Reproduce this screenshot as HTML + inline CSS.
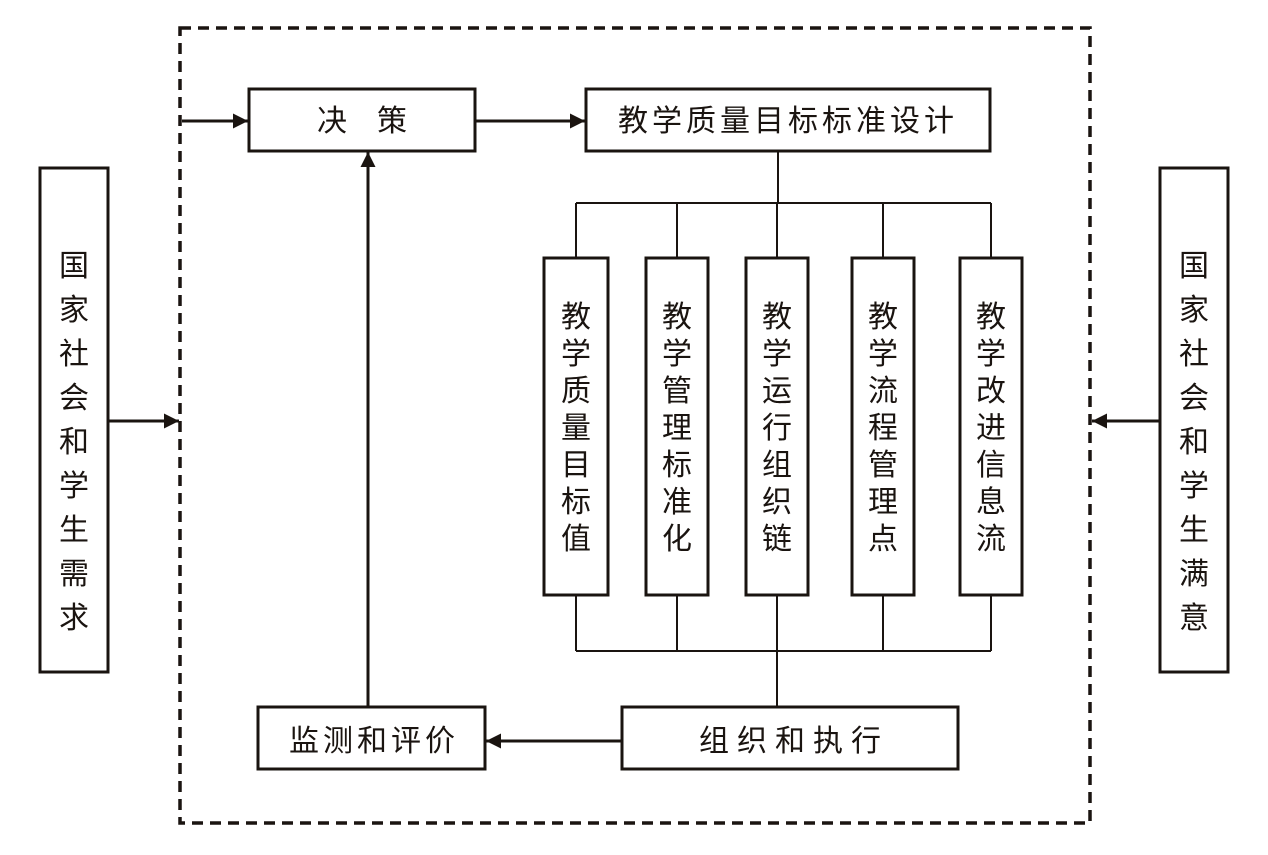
<!DOCTYPE html>
<html><head><meta charset="utf-8"><style>
html,body{margin:0;padding:0;background:#fff;}
svg{display:block;}
text{font-family:"Liberation Sans","Noto Sans CJK SC",sans-serif;fill:#1a1410;}
</style></head><body>
<svg width="1268" height="855" viewBox="0 0 1268 855" xmlns="http://www.w3.org/2000/svg">
<defs>
<marker id="a" viewBox="0 0 10 10" refX="10" refY="5" markerWidth="5" markerHeight="5" orient="auto" markerUnits="strokeWidth"><path d="M0,0 L10,5 L0,10 z" fill="#1a1410"/></marker>
</defs>
<g stroke="#1a1410" fill="none">
<rect x="180" y="28" width="910" height="795" stroke-width="3.5" stroke-dasharray="11,7"/>
<g stroke-width="3" fill="#fff">
<rect x="249" y="89" width="226" height="62"/>
<rect x="586" y="89" width="404" height="62"/>
<rect x="544" y="258" width="64" height="337"/>
<rect x="646" y="258" width="62" height="337"/>
<rect x="746" y="258" width="62" height="337"/>
<rect x="852" y="258" width="62" height="337"/>
<rect x="960" y="258" width="62" height="337"/>
<rect x="622" y="707" width="336" height="62"/>
<rect x="258" y="707" width="227" height="62"/>
<rect x="40" y="168" width="68" height="504"/>
<rect x="1160" y="168" width="68" height="504"/>
</g>
<g stroke-width="2">
<path d="M778 151 V203 M576 203 H991 M576 203 V258 M677 203 V258 M777 203 V258 M883 203 V258 M991 203 V258"/>
<path d="M576 595 V651 M677 595 V651 M777 595 V707 M883 595 V651 M991 595 V651 M576 651 H991"/>
</g>
<g stroke-width="3">
<line x1="182" y1="121" x2="248" y2="121" marker-end="url(#a)"/>
<line x1="475" y1="121" x2="585" y2="121" marker-end="url(#a)"/>
<line x1="622" y1="741" x2="486" y2="741" marker-end="url(#a)"/>
<line x1="368" y1="707" x2="368" y2="152" marker-end="url(#a)"/>
<line x1="108" y1="421" x2="179" y2="421" marker-end="url(#a)"/>
<line x1="1160" y1="421" x2="1092" y2="421" marker-end="url(#a)"/>
</g>
</g>
<g font-size="30" text-anchor="middle">
<text x="362" y="131" letter-spacing="0">决　策</text>
<text x="788" y="131" letter-spacing="4">教学质量目标标准设计</text>
<text x="794" y="751" letter-spacing="8">组织和执行</text>
<text x="374" y="751" letter-spacing="4">监测和评价</text>
</g>
<g font-size="30" text-anchor="middle">
<text x="576" y="327"><tspan x="576">教</tspan><tspan x="576" dy="37">学</tspan><tspan x="576" dy="37">质</tspan><tspan x="576" dy="37">量</tspan><tspan x="576" dy="37">目</tspan><tspan x="576" dy="37">标</tspan><tspan x="576" dy="37">值</tspan></text>
<text x="677" y="327"><tspan x="677">教</tspan><tspan x="677" dy="37">学</tspan><tspan x="677" dy="37">管</tspan><tspan x="677" dy="37">理</tspan><tspan x="677" dy="37">标</tspan><tspan x="677" dy="37">准</tspan><tspan x="677" dy="37">化</tspan></text>
<text x="777" y="327"><tspan x="777">教</tspan><tspan x="777" dy="37">学</tspan><tspan x="777" dy="37">运</tspan><tspan x="777" dy="37">行</tspan><tspan x="777" dy="37">组</tspan><tspan x="777" dy="37">织</tspan><tspan x="777" dy="37">链</tspan></text>
<text x="883" y="327"><tspan x="883">教</tspan><tspan x="883" dy="37">学</tspan><tspan x="883" dy="37">流</tspan><tspan x="883" dy="37">程</tspan><tspan x="883" dy="37">管</tspan><tspan x="883" dy="37">理</tspan><tspan x="883" dy="37">点</tspan></text>
<text x="991" y="327"><tspan x="991">教</tspan><tspan x="991" dy="37">学</tspan><tspan x="991" dy="37">改</tspan><tspan x="991" dy="37">进</tspan><tspan x="991" dy="37">信</tspan><tspan x="991" dy="37">息</tspan><tspan x="991" dy="37">流</tspan></text>
<text x="74" y="276"><tspan x="74">国</tspan><tspan x="74" dy="44">家</tspan><tspan x="74" dy="44">社</tspan><tspan x="74" dy="44">会</tspan><tspan x="74" dy="44">和</tspan><tspan x="74" dy="44">学</tspan><tspan x="74" dy="44">生</tspan><tspan x="74" dy="44">需</tspan><tspan x="74" dy="44">求</tspan></text>
<text x="1194" y="276"><tspan x="1194">国</tspan><tspan x="1194" dy="44">家</tspan><tspan x="1194" dy="44">社</tspan><tspan x="1194" dy="44">会</tspan><tspan x="1194" dy="44">和</tspan><tspan x="1194" dy="44">学</tspan><tspan x="1194" dy="44">生</tspan><tspan x="1194" dy="44">满</tspan><tspan x="1194" dy="44">意</tspan></text>
</g>
</svg>
</body></html>
